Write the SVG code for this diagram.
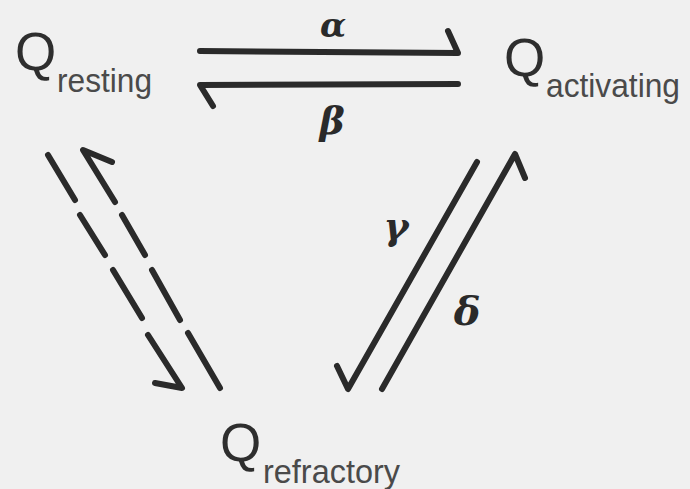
<svg xmlns="http://www.w3.org/2000/svg" width="690" height="489" viewBox="0 0 690 489">
<style>
.q{font-family:"Liberation Sans",Arial,sans-serif;font-size:53px;fill:#2e2e2e}
.sub{font-family:"Liberation Sans",Arial,sans-serif;font-size:34px;fill:#4a4a4a}
.gr{font-family:"DejaVu Serif","Liberation Serif",serif;font-weight:bold;font-style:italic;fill:#2a2a2a}
.ln{fill:none;stroke:#2a2a2a;stroke-width:6;stroke-linecap:round;stroke-linejoin:round}
</style>
<rect width="690" height="489" fill="#f0f0f0"/>
<g id="node-resting">
<text class="q" x="15" y="70">Q</text>
<text class="sub" x="57" y="92" textLength="95" lengthAdjust="spacingAndGlyphs">resting</text>
</g>
<g id="node-activating">
<text class="q" x="504" y="76">Q</text>
<text class="sub" x="546" y="97" textLength="134" lengthAdjust="spacingAndGlyphs">activating</text>
</g>
<g id="node-refractory">
<text class="q" x="220" y="461">Q</text>
<text class="sub" x="263" y="483" textLength="137" lengthAdjust="spacingAndGlyphs">refractory</text>
</g>
<g id="connectors">
<path class="ln" d="M200,51 L458,53 L448,31"/>
<path class="ln" d="M458,84 L200,85 L213,106"/>
<path class="ln" d="M48,155 L75,200 M80,215 L105,255 M113,270 L142,318 M148,335 L182,388 L155,383"/>
<path class="ln" d="M112,162 L83,150 L115,202 M122,215 L145,255 M152,270 L180,320 M188,333 L220,388"/>
<path class="ln" d="M477,162 L348,389 L337,366"/>
<path class="ln" d="M382,389 L515,154 L525,178"/>
<text class="gr" x="333" y="37" font-size="34" text-anchor="middle">α</text>
<text class="gr" x="332" y="134" font-size="38" text-anchor="middle">β</text>
<text class="gr" x="396" y="239" font-size="38" text-anchor="middle">γ</text>
<text class="gr" x="467" y="325" font-size="40" text-anchor="middle">δ</text>
</g>
</svg>
